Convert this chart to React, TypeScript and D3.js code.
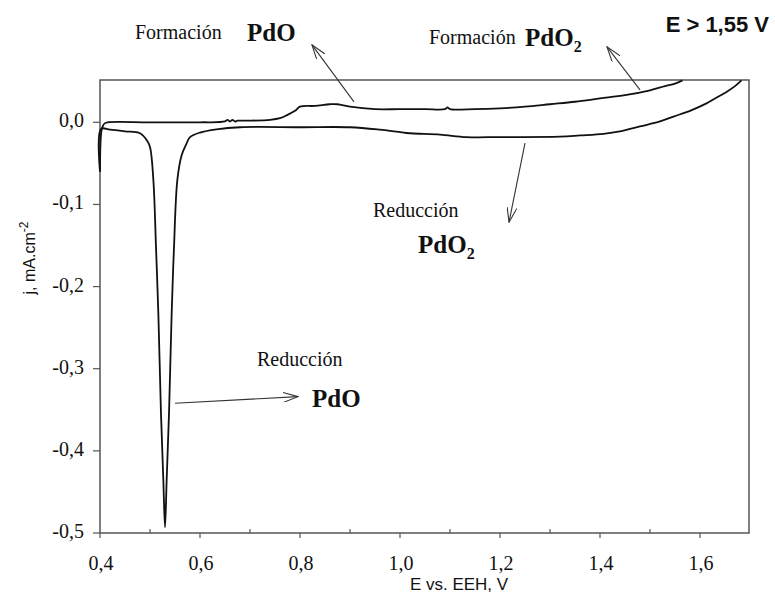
import * as d3 from 'd3';
import React, { useEffect, useRef } from 'react';

// anodic sweep (upper branch), E in V vs EEH and j in mA.cm-2
const potentialUp = [
  0.4, 0.401, 0.403, 0.406, 0.41, 0.415, 0.5, 0.6, 0.65, 0.655, 0.66, 0.665, 0.67,
  0.675, 0.68, 0.7, 0.74, 0.76, 0.775, 0.79, 0.8, 0.83, 0.86, 0.875, 0.9, 0.95, 1.0,
  1.05, 1.09, 1.095, 1.1, 1.15, 1.2, 1.25, 1.3, 1.35, 1.4, 1.45, 1.5, 1.53, 1.55, 1.565,
];
const currentUp = [
  -0.06, -0.025, -0.01, -0.004, -0.001, 0.0, 0.0, 0.0, 0.001, 0.003, 0.001, 0.003, 0.001,
  0.002, 0.002, 0.002, 0.003, 0.005, 0.009, 0.014, 0.019, 0.02, 0.022, 0.022, 0.019, 0.016, 0.016,
  0.016, 0.016, 0.018, 0.016, 0.016, 0.017, 0.019, 0.022, 0.025, 0.029, 0.033, 0.039, 0.044, 0.047, 0.051,
];

// cathodic sweep (lower branch), from the upper vertex back to 0,4 V
const potentialDown = [
  1.683, 1.67, 1.653, 1.63, 1.613, 1.58, 1.547, 1.52, 1.48, 1.44, 1.407, 1.36, 1.32, 1.2,
  1.133, 1.08, 1.013, 0.96, 0.9, 0.8, 0.68, 0.633, 0.6, 0.58, 0.573, 0.5633, 0.5547, 0.548,
  0.5433, 0.538, 0.5333, 0.53, 0.5267, 0.522, 0.5167, 0.512, 0.5067, 0.5, 0.4933, 0.48,
  0.45, 0.42, 0.402, 0.4,
];
const currentDown = [
  0.051, 0.044, 0.037, 0.029, 0.023, 0.014, 0.007, 0.001, -0.005, -0.011, -0.014, -0.016, -0.0175, -0.018,
  -0.018, -0.015, -0.013, -0.009, -0.006, -0.006, -0.006, -0.0086, -0.0125, -0.018, -0.026, -0.04, -0.07, -0.152,
  -0.233, -0.355, -0.436, -0.493, -0.436, -0.355, -0.233, -0.152, -0.07, -0.03, -0.0216, -0.0134,
  -0.011, -0.009, -0.008, -0.06,
];

const xTicks = [0.4, 0.6, 0.8, 1.0, 1.2, 1.4, 1.6];
const xMinorTicks = [0.5, 0.7, 0.9, 1.1, 1.3, 1.5];
const yTicks = [0.0, -0.1, -0.2, -0.3, -0.4, -0.5];

// arrows: [E tail, j tail, E head, j head]
const arrows = [
  [0.908, 0.0248, 0.824, 0.0943],
  [1.48, 0.0394, 1.414, 0.0918],
  [1.25, -0.0254, 1.218, -0.1216],
  [0.55, -0.342, 0.796, -0.334],
];

const serif = '"Liberation Serif", "Times New Roman", serif';
const sans = '"Liberation Sans", Arial, sans-serif';

export default function App() {
  const ref = useRef<SVGSVGElement>(null);

  useEffect(() => {
    const width = 775;
    const height = 600;
    const margin = { top: 80, right: 26, bottom: 67, left: 100 };

    const svg = d3.select(ref.current);
    svg.selectAll('*').remove();

    // scales
    const x = d3.scaleLinear().domain([0.4, 1.698]).range([margin.left, width - margin.right]);
    const y = d3.scaleLinear().domain([-0.5, 0.0515]).range([height - margin.bottom, margin.top]);

    // decimal comma, plain hyphen for minus
    const locale = d3.formatLocale({
      decimal: ',',
      thousands: '.',
      grouping: [3],
      currency: ['', ''],
      minus: '-',
    });
    const fmt = locale.format('.1f');

    // arrow head (open V)
    svg
      .append('defs')
      .append('marker')
      .attr('id', 'head')
      .attr('viewBox', '0 0 16 10')
      .attr('refX', 15)
      .attr('refY', 5)
      .attr('markerWidth', 16)
      .attr('markerHeight', 10)
      .attr('markerUnits', 'userSpaceOnUse')
      .attr('orient', 'auto')
      .append('path')
      .attr('d', 'M0,0 L15,5 L0,10')
      .attr('fill', 'none')
      .attr('stroke', '#333')
      .attr('stroke-width', 1.1);

    // frame
    svg
      .append('rect')
      .attr('x', x(0.4))
      .attr('y', y(0.0515))
      .attr('width', x(1.698) - x(0.4))
      .attr('height', y(-0.5) - y(0.0515))
      .attr('fill', 'none')
      .attr('stroke', '#555')
      .attr('stroke-width', 1.5);

    // x ticks: majors out, minors in
    const bottom = y(-0.5);
    svg
      .selectAll('.xt')
      .data(xTicks)
      .enter()
      .append('line')
      .attr('x1', d => x(d))
      .attr('x2', d => x(d))
      .attr('y1', bottom)
      .attr('y2', bottom + 5)
      .attr('stroke', '#555')
      .attr('stroke-width', 1.2);
    svg
      .selectAll('.xm')
      .data(xMinorTicks)
      .enter()
      .append('line')
      .attr('x1', d => x(d))
      .attr('x2', d => x(d))
      .attr('y1', bottom)
      .attr('y2', bottom - 4)
      .attr('stroke', '#555')
      .attr('stroke-width', 1.2);
    svg
      .selectAll('.xl')
      .data(xTicks)
      .enter()
      .append('text')
      .attr('x', d => x(d) + 1)
      .attr('y', 570)
      .attr('text-anchor', 'middle')
      .attr('font-family', serif)
      .attr('font-size', 20)
      .attr('fill', '#111')
      .text(d => fmt(d));

    // y ticks
    svg
      .selectAll('.yt')
      .data(yTicks)
      .enter()
      .append('line')
      .attr('x1', x(0.4) - 7)
      .attr('x2', x(0.4))
      .attr('y1', d => y(d))
      .attr('y2', d => y(d))
      .attr('stroke', '#555')
      .attr('stroke-width', 1.2);
    svg
      .selectAll('.yl')
      .data(yTicks)
      .enter()
      .append('text')
      .attr('x', 84)
      .attr('y', d => y(d) - 2)
      .attr('dy', '0.35em')
      .attr('text-anchor', 'end')
      .attr('font-family', serif)
      .attr('font-size', 20)
      .attr('fill', '#111')
      .text(d => fmt(d));

    // axis titles
    svg
      .append('text')
      .attr('x', 459)
      .attr('y', 590)
      .attr('text-anchor', 'middle')
      .attr('font-family', sans)
      .attr('font-size', 17)
      .attr('fill', '#111')
      .text('E vs. EEH, V');

    const yTitle = svg
      .append('text')
      .attr('transform', 'translate(35,258) rotate(-90)')
      .attr('text-anchor', 'middle')
      .attr('font-family', sans)
      .attr('font-size', 16)
      .attr('fill', '#111');
    yTitle.append('tspan').text('j, mA.cm');
    yTitle.append('tspan').attr('dy', -7).attr('font-size', 12).text('-2');

    // voltammogram, both sweeps
    const path = d3.line().curve(d3.curveCatmullRom.alpha(0.5));
    const up = potentialUp.map((e, i) => [x(e), y(currentUp[i])] as [number, number]);
    const down = potentialDown.map((e, i) => [x(e), y(currentDown[i])] as [number, number]);

    [up, down].forEach((pts) => {
      svg
        .append('path')
        .attr('d', path(pts))
        .attr('fill', 'none')
        .attr('stroke', '#111')
        .attr('stroke-width', 1.8);
    });

    // annotation arrows
    svg
      .selectAll('.arrow')
      .data(arrows)
      .enter()
      .append('line')
      .attr('x1', d => x(d[0]))
      .attr('y1', d => y(d[1]))
      .attr('x2', d => x(d[2]))
      .attr('y2', d => y(d[3]))
      .attr('stroke', '#333')
      .attr('stroke-width', 1.1)
      .attr('marker-end', 'url(#head)');

    // annotation texts
    const note = (tx: number, ty: number, txt: string) =>
      svg
        .append('text')
        .attr('x', tx)
        .attr('y', ty)
        .attr('font-family', serif)
        .attr('font-size', 20)
        .attr('fill', '#111')
        .text(txt);
    const species = (tx: number, ty: number, sub: string) => {
      const t = svg
        .append('text')
        .attr('x', tx)
        .attr('y', ty)
        .attr('font-family', serif)
        .attr('font-size', 25)
        .attr('font-weight', 'bold')
        .attr('fill', '#111');
      t.append('tspan').text('PdO');
      if (sub) t.append('tspan').attr('dy', 6).attr('font-size', 16).text(sub);
    };

    note(135, 39, 'Formación');
    species(247, 41, '');
    note(429, 44, 'Formación');
    species(525, 46, '2');
    note(373, 217, 'Reducción');
    species(418, 253, '2');
    note(257, 366, 'Reducción');
    species(312, 407, '');

    svg
      .append('text')
      .attr('x', 769)
      .attr('y', 32)
      .attr('text-anchor', 'end')
      .attr('font-family', sans)
      .attr('font-size', 22)
      .attr('font-weight', 'bold')
      .attr('fill', '#111')
      .text('E > 1,55 V');
  }, []);

  return (
    <svg
      ref={ref}
      width={775}
      height={600}
      style={{ position: 'absolute', left: 0, top: 0, background: '#fff' }}
    />
  );
}
